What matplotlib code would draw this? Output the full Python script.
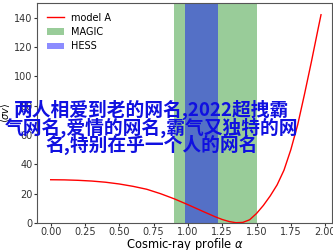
import matplotlib.pyplot as plt

# model A curve
alpha_x = [0.0, 0.1, 0.2, 0.3, 0.4, 0.5, 0.6, 0.7, 0.8, 0.9, 1.0, 1.1, 1.2, 1.25,
           1.3, 1.35, 1.4, 1.45, 1.5, 1.55, 1.6, 1.65, 1.7, 1.75, 1.8, 1.85, 1.9,
           1.95, 1.97]
model_a = [29.5, 29.4, 29.1, 28.6, 27.8, 26.6, 25.0, 23.0, 20.0, 16.5, 12.5, 8.3,
           4.2, 2.4, 1.0, 0.2, 0.4, 2.2, 6.5, 12.0, 18.5, 26.0, 36.0, 50.0, 67.0,
           88.0, 110.0, 133.0, 142.0]

magic_range = (0.90, 1.50)
hess_range = (0.98, 1.22)

overlay = "两人相爱到老的网名,2022超拽霸\n气网名,爱情的网名,霸气又独特的网\n名,特别在乎一个人的网名"

fig = plt.figure(figsize=(3.33, 2.5), dpi=100)
ax = fig.add_axes([0.111, 0.108, 0.886, 0.88])

ax.plot(alpha_x, model_a, color='red', lw=1, label='model A')
ax.axvspan(*magic_range, color='green', alpha=0.4, lw=0, label='MAGIC')
ax.axvspan(*hess_range, color='blue', alpha=0.45, lw=0, label='HESS')

ax.set_xlim(-0.1, 2.05)
ax.set_ylim(0, 150)
ax.set_xticks([0, 0.25, 0.5, 0.75, 1.0, 1.25, 1.5, 1.75, 2.0])
ax.set_yticks([0, 20, 40, 60, 80, 100, 120, 140])
ax.tick_params(labelsize=7, length=2, width=0.8, pad=1, colors='#333333')
for s in ax.spines.values():
    s.set_color('#555555')
ax.set_xlabel(r'Cosmic-ray profile $\alpha$', fontsize=8.3, labelpad=-0.5)
ax.set_ylabel(r'$\langle\sigma v\rangle$', fontsize=7, labelpad=2)
ax.legend(loc='upper left', frameon=False, fontsize=7, handlelength=1.8,
          handletextpad=0.7, labelspacing=0.45, borderaxespad=0.6)

fig.text(0.455, 0.49, overlay, ha='center', va='center', color='#1010e0',
         fontsize=13.5, fontweight='bold', linespacing=0.85,
         family=['Noto Sans CJK SC', 'DejaVu Sans'])

fig.savefig('out.png')
